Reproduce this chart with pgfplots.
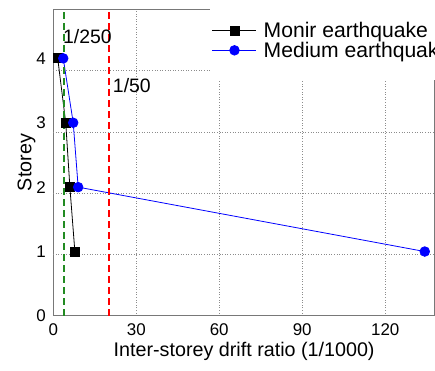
\documentclass[border=0pt]{standalone}
\usepackage{fontspec}
\setmainfont{Liberation Sans}
\usepackage{pgfplots}
\pgfplotsset{compat=1.18}
\definecolor{frame}{RGB}{120,120,120}
\definecolor{dgreen}{RGB}{34,139,34}
\newcommand{\lf}{\fontsize{19.5}{23}\selectfont}
\newcommand{\lgf}{\fontsize{21.2}{24}\selectfont}
\begin{document}
\begin{tikzpicture}
\begin{axis}[
  name=ax,
  at={(0,0)}, anchor=south west,
  scale only axis,
  width=381.8bp, height=306.7bp,
  xmin=0, xmax=138, ymin=0, ymax=5,
  xtick={0,30,60,90,120},
  ytick={0,1.05,2.1,3.15,4.2},
  yticklabels={0,1,2,3,4},
  extra y ticks={1,2,3,4},
  extra y tick labels={},
  extra y tick style={ymajorgrids=true},
  xmajorgrids=true,
  major tick length=0pt,
  grid style={dash pattern=on 0.8bp off 1.8bp, black!45, line width=0.6pt},
  axis line style={frame, line width=1.1pt},
  /pgf/number format/assume math mode=true,
  ticklabel style={font=\fontsize{17}{20}\selectfont},
  label style={font=\fontsize{19.8}{23}\selectfont},
  xlabel={Inter-storey drift ratio (1/1000)},
  ylabel={Storey},
  xticklabel style={yshift=-4bp},
  yticklabel style={xshift=-4bp},
  ylabel style={yshift=-6bp},
  legend style={at={(rel axis cs:0.41,0.975)}, anchor=north west, draw=none, fill=none,
    inner xsep=2bp, inner ysep=3bp, row sep=-1bp,
    cells={anchor=west}},
  legend image code/.code={\draw[mark repeat=2,mark phase=2] plot coordinates {(0cm,0cm) (0.78cm,0cm) (1.55cm,0cm)};},
]
\fill[white] (rel axis cs:0.41,0.77) rectangle (rel axis cs:1,1);
\addplot[black, line width=0.8pt, mark=square*, mark size=4.5bp, mark options={solid}] coordinates {
 (1.6,4.2) (4.5,3.15) (6.0,2.1) (7.8,1.05)};
\addlegendentry{\hspace*{5bp}\lgf Monir earthquake}
\addplot[blue, line width=0.8pt, mark=*, mark size=4.8bp, mark options={solid}] coordinates {
 (3.6,4.2) (7.2,3.15) (9.0,2.1) (134.3,1.05)};
\addlegendentry{\hspace*{5bp}\lgf Medium earthquake}
\addplot[dgreen, line width=1.8pt, dash pattern=on 7bp off 4bp, forget plot] coordinates {(4,0) (4,5)};
\addplot[red, line width=1.8pt, dash pattern=on 7bp off 4bp, forget plot] coordinates {(20,0) (20,5)};
\node[anchor=base west, inner sep=0pt, font=\lf] at (axis cs:3.5,4.44) {1/250};
\node[anchor=base west, inner sep=0pt, font=\lf] at (axis cs:21.5,3.65) {1/50};
\end{axis}
\pgfresetboundingbox
\path[use as bounding box] ([shift={(-53.3bp,-55bp)}]ax.south west) rectangle ([shift={(0bp,9.3bp)}]ax.north east);
\end{tikzpicture}
\end{document}
